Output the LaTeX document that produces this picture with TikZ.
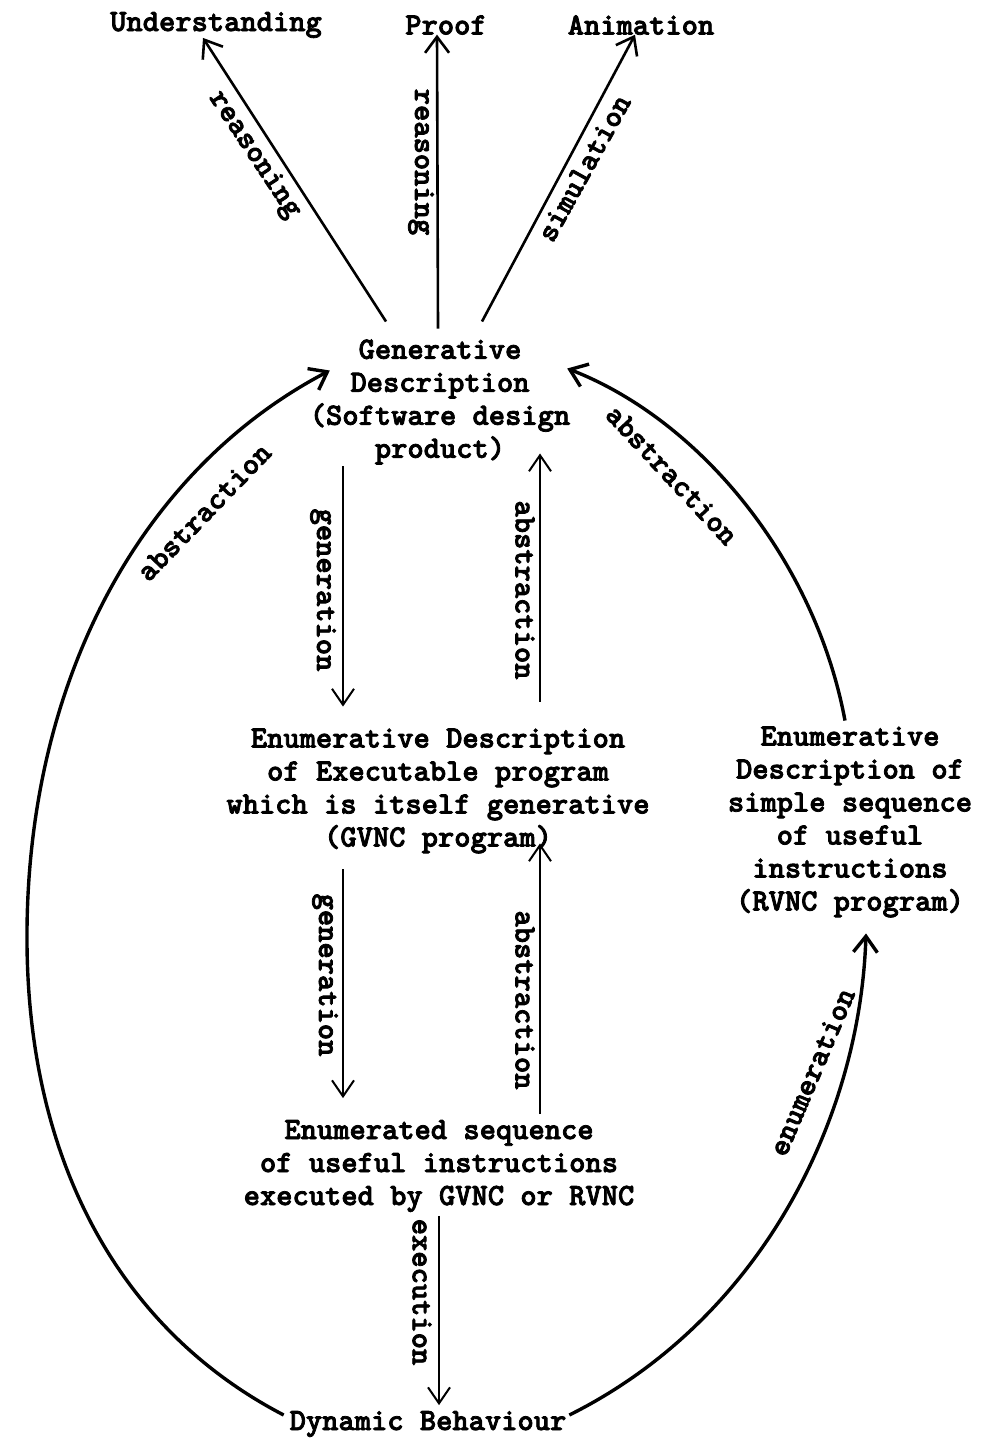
\documentclass[tikz,border=0pt]{standalone}
\usepackage{fontspec}
\newfontfamily\twfont{lmmonolt10-bold.otf}[FakeBold=2.5]
\usetikzlibrary{arrows.meta}
\begin{document}
\begin{tikzpicture}[x=1pt,y=-1pt,
  txt/.style={font=\fontsize{31}{33}\selectfont\twfont, inner sep=0pt, outer sep=0pt, align=center},
  lbl/.style={font=\fontsize{31}{33}\selectfont\twfont, inner sep=0pt, outer sep=0pt},
  toparr/.style={line width=2.6pt, -{Straight Barb[length=16pt,width=24pt]}},
  midarr/.style={line width=2pt, -{Straight Barb[length=16pt,width=22pt]}},
  arcarr/.style={line width=3.4pt, -{Straight Barb[length=16pt,width=24pt]}},
]
\path[fill=white] (0,0) rectangle (981,1442);

% nodes
\node[txt] (und) at (216,25) {Understanding};
\node[txt] (proof) at (446,25) {Proof};
\node[txt] (anim) at (641,25) {Animation};
\node[txt] (gen) at (440,402) {Generative\\Description\\(Software design\\product)};
\node[txt] (exe) at (438,791) {Enumerative Description\\of Executable program\\which is itself generative\\(GVNC program)};
\node[txt] (rvnc) at (850,822) {Enumerative\\Description of\\simple sequence\\of useful\\instructions\\(RVNC program)};
\node[txt] (seq) at (439,1166) {Enumerated sequence\\of useful instructions\\executed by GVNC or RVNC};
\node[txt] (dyn) at (428,1424) {Dynamic Behaviour};

% top arrows
\draw[toparr] ([xshift=-54pt,yshift=18pt]gen.north) -- ([xshift=-13pt]und.south);
\draw[toparr] ([xshift=-2pt,yshift=11pt]gen.north) -- ([xshift=-9pt]proof.south);
\draw[toparr] ([xshift=42pt,yshift=18pt]gen.north) -- ([xshift=-6pt]anim.south);

% vertical arrows
\draw[midarr] ([xshift=-97pt,yshift=-2pt]gen.south) -- ([xshift=-97pt,yshift=22pt]gen.south |- exe.north);
\draw[midarr] ([xshift=100pt,yshift=27pt]gen.south |- exe.north) -- ([xshift=100pt,yshift=11pt]gen.south);
\draw[midarr] ([xshift=-95pt,yshift=-16pt]exe.south) -- ([xshift=-95pt,yshift=22pt]exe.south |- seq.north);
\draw[midarr] ([xshift=102pt,yshift=6pt]exe.south |- seq.north) -- ([xshift=102pt,yshift=10pt]exe.south);
\draw[midarr] ([yshift=-4pt]seq.south) -- ([yshift=6pt]seq.south |- dyn.north);

% arcs
\draw[arcarr] ([xshift=-6pt,yshift=9pt]dyn.west) .. controls (120,1330) and (25,1160) .. (27,930)
  .. controls (29,680) and (140,470) .. ([xshift=20pt,yshift=-31pt]gen.north west);
\draw[arcarr] ([xshift=-5pt,yshift=6pt]rvnc.north) .. controls (815,560) and (700,420) .. ([xshift=-3pt,yshift=-29pt]gen.north east);
\draw[arcarr] ([xshift=3pt,yshift=9pt]dyn.east) .. controls (760,1320) and (860,1120) .. ([xshift=16pt,yshift=-16pt]rvnc.south);

% labels
\node[lbl, rotate=-56.5] (l1) at (254,155) {reasoning};
\node[lbl, rotate=-90] (l2) at (421,162) {reasoning};
\node[lbl, rotate=61] (l3) at (584,168) {simulation};
\node[lbl, rotate=46] (l4) at (204,512) {abstraction};
\node[lbl, rotate=-47] (l5) at (672,475) {abstraction};
\node[lbl, rotate=-90] (l6) at (323,590) {generation};
\node[lbl, rotate=-90] (l7) at (525,590) {abstraction};
\node[lbl, rotate=-90] (l8) at (325,975) {generation};
\node[lbl, rotate=-90] (l9) at (525,1000) {abstraction};
\node[lbl, rotate=-90] (l10) at (422,1292) {execution};
\node[lbl, rotate=67] (l11) at (812,1072) {enumeration};
\end{tikzpicture}
\end{document}
